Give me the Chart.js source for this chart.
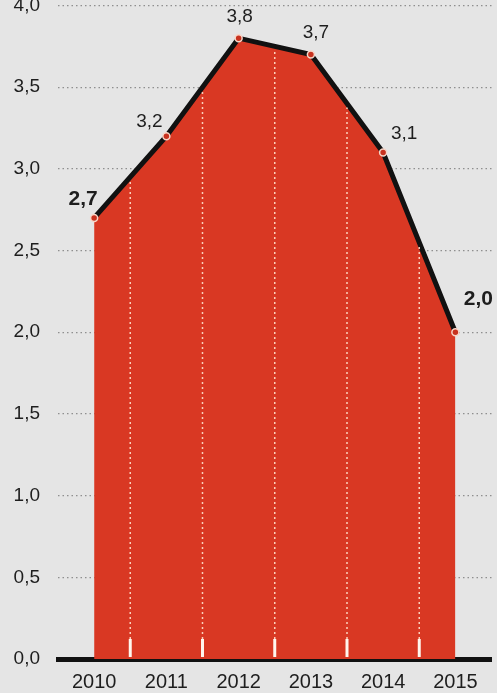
<!DOCTYPE html>
<html lang="pt">
<head>
<meta charset="UTF-8">
<title>Chart</title>
<style>
  * { margin: 0; padding: 0; }
  body { background: #e5e5e5; }
  .container { width: 497px; height: 693px; }
</style>
</head>
<body>
<div class="container">
  <canvas id="chart" width="497" height="693"></canvas>
</div>
<script src="https://cdn.jsdelivr.net/npm/chart.js@4/dist/chart.umd.min.js"></script>
<script>
  var anos = ['2010', '2011', '2012', '2013', '2014', '2015'];
  var valores = [2.7, 3.2, 3.8, 3.7, 3.1, 2.0];
  var destaque = [true, false, false, false, false, true]; // rotulos em negrito

  function virgula(v) {
    return v.toFixed(1).replace('.', ',');
  }

  // linhas brancas pontilhadas entre os anos + rotulos dos pontos
  var enfeites = {
    id: 'enfeites',
    afterDatasetsDraw: function (chart) {
      var ctx = chart.ctx;
      var pts = chart.getDatasetMeta(0).data;
      var base = chart.scales.y.getPixelForValue(0);
      ctx.save();
      for (var i = 0; i < pts.length - 1; i++) {
        var x = (pts[i].x + pts[i + 1].x) / 2;
        var topo = (pts[i].y + pts[i + 1].y) / 2 + 4;
        ctx.strokeStyle = 'rgba(255,225,205,0.9)';
        ctx.lineWidth = 1.5;
        ctx.setLineDash([2, 3]);
        ctx.beginPath();
        ctx.moveTo(x, base - 20);
        ctx.lineTo(x, topo);
        ctx.stroke();
        ctx.setLineDash([]);
        ctx.strokeStyle = '#fff6ee';
        ctx.lineWidth = 3;
        ctx.beginPath();
        ctx.moveTo(x, base - 2);
        ctx.lineTo(x, base - 20);
        ctx.stroke();
      }
      ctx.restore();
    },
    afterDraw: function (chart) {
      var ctx = chart.ctx;
      var pts = chart.getDatasetMeta(0).data;
      var desl = [[-11, -19], [-17, -14], [1, -21], [5, -22], [21, -19], [23, -33]];
      ctx.save();
      ctx.fillStyle = '#1e1e1e';
      ctx.textAlign = 'center';
      ctx.textBaseline = 'middle';
      for (var i = 0; i < pts.length; i++) {
        ctx.font = destaque[i] ? 'bold 21px "Liberation Sans", Arial, sans-serif' : '19px "Liberation Sans", Arial, sans-serif';
        ctx.fillText(virgula(valores[i]), pts[i].x + desl[i][0], pts[i].y + desl[i][1]);
      }
      ctx.restore();
    }
  };

  var ctx = document.getElementById('chart').getContext('2d');
  var myChart = new Chart(ctx, {
    type: 'line',
    data: {
      labels: anos,
      datasets: [{
        data: valores,
        borderColor: '#111',
        borderWidth: 5,
        backgroundColor: '#d93823',
        fill: 'origin',
        tension: 0,
        pointRadius: 3.5,
        pointBackgroundColor: '#c8321f',
        pointBorderColor: '#f7d6c8',
        pointBorderWidth: 1.5
      }]
    },
    options: {
      responsive: false,
      animation: false,
      layout: { padding: { top: 0, right: 5, left: 0, bottom: 0 } },
      plugins: {
        legend: { display: false },
        tooltip: { enabled: false }
      },
      scales: {
        x: {
          offset: true,
          z: 1,
          grid: { display: false, drawTicks: false },
          border: { display: true, color: '#111', width: 5 },
          ticks: {
            color: '#1e1e1e',
            padding: 11,
            maxRotation: 0,
            font: { size: 20, family: '"Liberation Sans", Arial, sans-serif' }
          },
          afterFit: function (s) {
            s.height = 34;
            s.paddingLeft = 0;
            s.paddingRight = 0;
          }
        },
        y: {
          min: 0,
          max: 4,
          z: 1,
          grid: { color: 'rgba(85,85,85,0.6)', lineWidth: 1.3, drawTicks: false },
          border: { display: false, dash: [1.5, 3] },
          ticks: {
            stepSize: 0.5,
            padding: 18,
            color: '#1e1e1e',
            font: { size: 19, family: '"Liberation Sans", Arial, sans-serif' },
            callback: function (v) { return virgula(v); }
          },
          afterFit: function (s) {
            s.width = 58;
            s.paddingTop = 5;
            s.paddingBottom = 0;
          }
        }
      }
    },
    plugins: [enfeites]
  });
</script>
</body>
</html>
